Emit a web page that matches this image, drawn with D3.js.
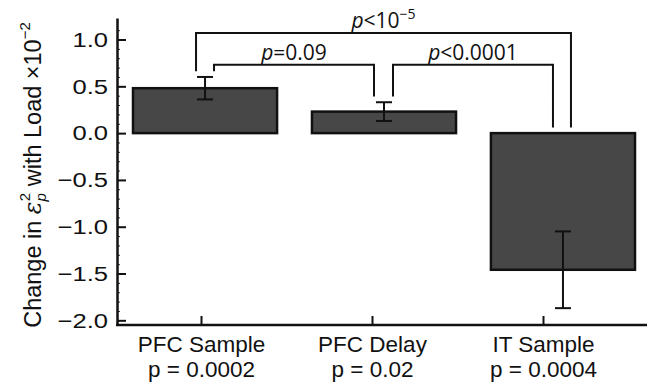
<!DOCTYPE html>
<html>
<head>
<meta charset="utf-8">
<script src="https://cdn.jsdelivr.net/npm/d3@7"></script>
<style>
  body { margin: 0; background: #fff; }
  svg { display: block; }
  .axis text { font-family: "Liberation Sans", Arial, sans-serif; fill: #111; }
  .note { font-family: "Open Sans", sans-serif; font-size: 21px; fill: #111; }
</style>
</head>
<body>
<svg id="chart"></svg>
<script>
// data
const categories = ['PFC Sample', 'PFC Delay', 'IT Sample'];
const pLabels = ['p = 0.0002', 'p = 0.02', 'p = 0.0004'];
const values = [0.48, 0.23, -1.46];
const errors = [0.12, 0.10, 0.41];
const yTicks = [-2.0, -1.5, -1.0, -0.5, 0.0, 0.5, 1.0];

// pairwise comparisons between bars
const comparisons = [
  {from: 0, to: 2, rel: '<', val: '10', sup: '\u22125', level: 1.07},
  {from: 0, to: 1, rel: '=', val: '0.09', sup: null, level: 0.73},
  {from: 1, to: 2, rel: '<', val: '0.0001', sup: null, level: 0.73}
];

const W = 647, H = 387;
const margin = {top: 18, right: 0, bottom: 62, left: 117};
const axisBottomY = H - margin.bottom; // 325

const svg = d3.select('#chart').attr('width', W).attr('height', H);

const y = d3.scaleLinear()
  .domain([-2.05, 1.23])
  .range([axisBottomY, margin.top]);

// bars sit on a band scale, axis ticks on a point scale (they are offset in the figure)
const xBar = d3.scaleBand()
  .domain(categories)
  .range([133, 635])
  .paddingInner(0.195)
  .paddingOuter(0);

const xTick = d3.scalePoint()
  .domain(categories)
  .range([201, 543]);

const cx = i => xBar(categories[i]) + xBar.bandwidth() / 2;

// bars
svg.selectAll('.bar')
  .data(values)
  .join('rect')
  .attr('class', 'bar')
  .attr('x', (d, i) => xBar(categories[i]))
  .attr('width', xBar.bandwidth())
  .attr('y', d => y(Math.max(0, d)))
  .attr('height', d => Math.abs(y(d) - y(0)))
  .attr('fill', '#474747')
  .attr('stroke', '#111')
  .attr('stroke-width', 2.5);

// error bars
const eb = svg.append('g').attr('stroke', '#111').attr('stroke-width', 2).attr('fill', 'none');
values.forEach((v, i) => {
  const x = cx(i);
  eb.append('line').attr('x1', x).attr('x2', x).attr('y1', y(v - errors[i])).attr('y2', y(v + errors[i]));
  [v - errors[i], v + errors[i]].forEach(e => {
    eb.append('line').attr('x1', x - 8).attr('x2', x + 8).attr('y1', y(e)).attr('y2', y(e));
  });
});

// y axis: minor then major ticks
svg.append('g')
  .attr('transform', `translate(${margin.left},0)`)
  .call(d3.axisLeft(y).tickValues(d3.range(-20, 12).map(d => d / 10)).tickSize(-3).tickFormat(''))
  .call(g => g.select('.domain').remove())
  .call(g => g.selectAll('.tick line').attr('stroke', '#333').attr('stroke-width', 1));

const yAxisG = svg.append('g')
  .attr('class', 'axis')
  .attr('transform', `translate(${margin.left},0)`)
  .call(d3.axisLeft(y).tickValues(yTicks).tickSizeInner(-9).tickSizeOuter(0).tickPadding(9).tickFormat(d3.format('.1f')));
yAxisG.select('.domain').attr('stroke', '#111').attr('stroke-width', 2.5);
yAxisG.selectAll('.tick line').attr('stroke', '#111').attr('stroke-width', 2);
// tick numbers in the figure are drawn wider than the other text
yAxisG.selectAll('.tick text')
  .attr('font-size', 21)
  .attr('x', 0)
  .attr('transform', 'translate(-9,0) scale(1.22,1)');

// x axis
const xAxisG = svg.append('g')
  .attr('class', 'axis')
  .attr('transform', `translate(0,${axisBottomY})`)
  .call(d3.axisBottom(xTick).tickSizeInner(-9).tickSizeOuter(0).tickPadding(0));
xAxisG.select('.domain').remove();
xAxisG.append('line')
  .attr('x1', margin.left - 1).attr('x2', W)
  .attr('stroke', '#111').attr('stroke-width', 2.5);
xAxisG.selectAll('.tick line').attr('stroke', '#111').attr('stroke-width', 2);
xAxisG.selectAll('.tick text').remove();
xAxisG.selectAll('.tick').each(function (d, i) {
  const t = d3.select(this).append('text')
    .attr('text-anchor', 'middle')
    .attr('font-size', 22.5)
    .attr('fill', '#111');
  t.append('tspan').attr('x', 0).attr('y', 27).text(d);
  t.append('tspan').attr('x', 0).attr('y', 52).text(pLabels[i]);
});

// y axis title
const yTitle = svg.append('text')
  .attr('class', 'axis')
  .attr('transform', `translate(41,175) rotate(-90)`)
  .attr('text-anchor', 'middle')
  .attr('font-family', '"Liberation Sans", Arial, sans-serif')
  .attr('font-size', 23.5)
  .attr('fill', '#111');
yTitle.append('tspan').text('Change in ');
yTitle.append('tspan').attr('font-style', 'italic').attr('font-family', '"DejaVu Serif", serif').text('\u03b5');
yTitle.append('tspan').attr('font-style', 'italic').attr('font-size', 15).attr('dy', 5).text('p');
yTitle.append('tspan').attr('font-size', 15).attr('dx', -8).attr('dy', -16).text('2');
yTitle.append('tspan').attr('dy', 11).text(' with Load \u00d710');
yTitle.append('tspan').attr('font-size', 15).attr('dy', -11).text('\u22122');

// significance brackets
const br = svg.append('g');
comparisons.forEach(c => {
  const outer = c.from === 0 && c.to === 2;
  const x1 = cx(c.from) + (outer ? -9 : 9);
  const x2 = cx(c.to) + (outer ? 8 : -10);
  const top1 = Math.max(0, values[c.from]) + errors[c.from] + 0.06;
  const top2 = (values[c.to] > 0 ? values[c.to] + errors[c.to] : 0) + 0.06;
  br.append('path')
    .attr('d', `M${x1},${y(top1)}V${y(c.level)}H${x2}V${y(top2)}`)
    .attr('fill', 'none')
    .attr('stroke', '#111')
    .attr('stroke-width', 2);
  const t = br.append('text')
    .attr('class', 'note')
    .attr('x', (x1 + x2) / 2)
    .attr('y', y(c.level) - 5)
    .attr('text-anchor', 'middle');
  t.append('tspan').attr('font-style', 'italic').text('p');
  t.append('tspan').text(c.rel + c.val);
  if (c.sup) t.append('tspan').attr('font-size', 14).attr('dy', -9).text(c.sup);
});
</script>
</body>
</html>
